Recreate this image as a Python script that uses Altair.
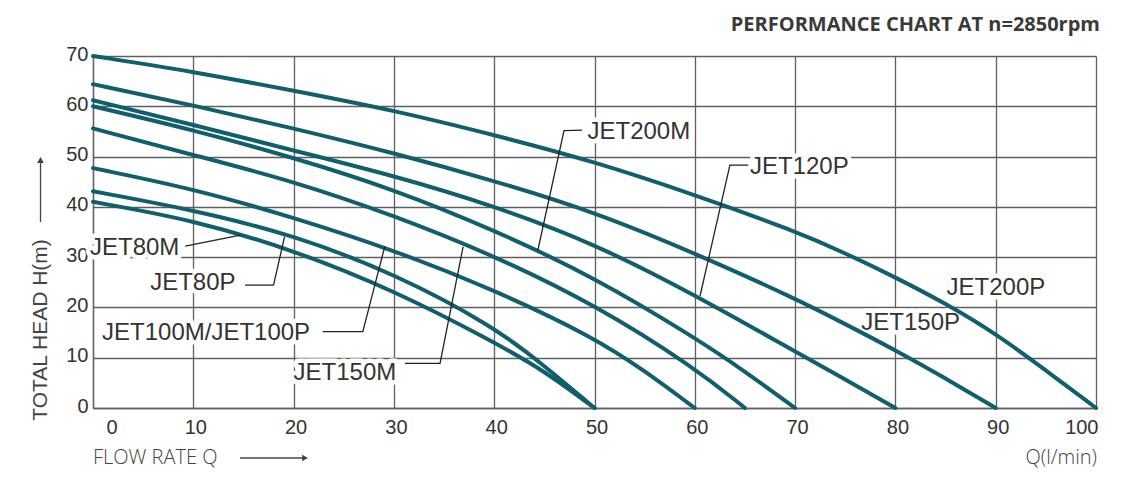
import altair as alt
import pandas as pd

# ---------------- data ----------------
MODELS = ["JET200P", "JET150P", "JET120P", "JET200M", "JET150M",
          "JET100M/JET100P", "JET80P", "JET80M"]

Q_JET200P = [0, 10, 20, 30, 40, 50, 60, 70, 75, 80, 85, 90, 95, 100]
H_JET200P = [70, 66.9, 63.1, 59.2, 54.3, 49, 42.4, 35.2, 30.8, 26, 20.8, 14.8, 7.5, 0]

Q_JET150P = [0, 10, 20, 30, 40, 50, 60, 70, 75, 80, 85, 90]
H_JET150P = [64.4, 60.2, 55.6, 50.7, 45.2, 39, 30.8, 21.8, 16.7, 11.5, 5.9, 0]

Q_JET120P = [0, 10, 20, 30, 40, 50, 60, 70, 75, 80]
H_JET120P = [61.2, 56.3, 51.2, 46.2, 40.2, 32.7, 22.5, 11.2, 5.7, 0]

Q_JET200M = [0, 10, 20, 30, 40, 50, 60, 65, 70]
H_JET200M = [60, 55.3, 49.8, 43.5, 35.4, 26, 14, 7.3, 0]

Q_JET150M = [0, 10, 20, 30, 40, 50, 60, 65]
H_JET150M = [55.6, 50.3, 45.1, 38.3, 30.3, 20.6, 8, 0]

Q_JET100 = [0, 10, 20, 30, 40, 50, 55, 60]
H_JET100 = [47.7, 43.6, 37.9, 31.4, 23.5, 14, 7.4, 0]

Q_JET80P = [0, 10, 20, 30, 40, 45, 50]
H_JET80P = [43.1, 39.4, 34.4, 26.8, 16.2, 8.4, 0]

Q_JET80M = [0, 10, 20, 30, 40, 45, 50]
H_JET80M = [41, 37.4, 31.4, 23.4, 13.1, 7.4, 0]

CURVE_Q = [Q_JET200P, Q_JET150P, Q_JET120P, Q_JET200M, Q_JET150M, Q_JET100, Q_JET80P, Q_JET80M]
CURVE_H = [H_JET200P, H_JET150P, H_JET120P, H_JET200M, H_JET150M, H_JET100, H_JET80P, H_JET80M]

# curve labels (left edge of text, vertical centre)
LABEL_TEXT = ["JET80M", "JET80P", "JET100M/JET100P", "JET150M",
              "JET200M", "JET120P", "JET200P", "JET150P"]
LABEL_Q = [-0.3, 5.7, 0.9, 20.0, 49.3, 65.5, 85.1, 76.6]
LABEL_H = [31.9, 24.8, 14.85, 6.9, 54.9, 48.0, 23.8, 17.0]

# leader lines from labels to curves
POINTER_ID = ["JET80M", "JET80P", "JET100", "JET150M", "JET200M", "JET120P"]
POINTER_Q = [[9.2, 14.7], [15.15, 18.0, 19.1], [22.9, 26.9, 29.1],
             [31.1, 34.6, 36.9], [48.75, 46.96, 44.34], [65.33, 63.5, 60.52]]
POINTER_H = [[32.2, 34.4], [24.45, 24.45, 34.06], [15.17, 15.17, 32.2],
             [8.89, 8.89, 32.07], [55.27, 55.17, 31.27], [48.31, 48.31, 22.27]]

X_TICKS = [0, 10, 20, 30, 40, 50, 60, 70, 80, 90, 100]
Y_TICKS = [0, 10, 20, 30, 40, 50, 60, 70]

TITLE = "PERFORMANCE CHART AT n=2850rpm"
X_TITLE = "FLOW RATE Q"
X_UNIT = "Q(l/min)"
Y_TITLE = "TOTAL HEAD H(m)"

# ---------------- tables ----------------
curve_rows = []
for m, qs, hs in zip(MODELS, CURVE_Q, CURVE_H):
    for q, h in zip(qs, hs):
        curve_rows.append({"model": m, "Q": q, "H": h})
curves_df = pd.DataFrame(curve_rows)

labels_df = pd.DataFrame({"label": LABEL_TEXT, "Q": LABEL_Q, "H": LABEL_H})

ptr_rows = []
for pid, qs, hs in zip(POINTER_ID, POINTER_Q, POINTER_H):
    for i, (q, h) in enumerate(zip(qs, hs)):
        ptr_rows.append({"id": pid, "seq": i, "Q": q, "H": h})
ptr_df = pd.DataFrame(ptr_rows)

GRID = "#5f5f5f"
TXT = "#333333"
CURVE = "#0f5f6d"

x_enc = alt.X("Q:Q",
              scale=alt.Scale(domain=[0, 100], nice=False, zero=True),
              axis=alt.Axis(values=X_TICKS, title=None, grid=True, ticks=False,
                            labelPadding=9, labelFontSize=20,
                            labelOffset={"condition": {"test": "datum.value == 0", "value": 13},
                                         "value": 2}))
y_enc = alt.Y("H:Q",
              scale=alt.Scale(domain=[0, 70], nice=False, zero=True),
              axis=alt.Axis(values=Y_TICKS, title=None, grid=True, ticks=False,
                            labelPadding=5, labelFontSize=20, labelOffset=-2))

one = pd.DataFrame({"k": [0]})

halo = alt.Chart(labels_df).mark_text(
    align="left", baseline="middle", font="Liberation Sans", fontSize=24,
    color="white", stroke="white", strokeWidth=9, strokeJoin="round"
).encode(x=x_enc, y=y_enc, text="label:N")

lines = alt.Chart(curves_df).mark_line(
    interpolate="basis", strokeWidth=4, color=CURVE, strokeCap="round"
).encode(x=x_enc, y=y_enc, detail="model:N")

labels = alt.Chart(labels_df).mark_text(
    align="left", baseline="middle", font="Liberation Sans", fontSize=24, color=TXT
).encode(x=x_enc, y=y_enc, text="label:N")

pointers = alt.Chart(ptr_df).mark_line(color="#222222", strokeWidth=1.3).encode(
    x=x_enc, y=y_enc, detail="id:N", order="seq:O")

title = alt.Chart(one).mark_text(
    text=TITLE, align="right", baseline="middle", font="Open Sans",
    fontWeight="bold", fontSize=20, color="#3a3a3a"
).encode(x=alt.value(1007), y=alt.value(-31))

xtitle = alt.Chart(one).mark_text(
    text=X_TITLE, align="left", baseline="middle", font="Open Sans",
    fontWeight=300, fontSize=20, color="#444444"
).encode(x=alt.value(0), y=alt.value(402))

xunit = alt.Chart(one).mark_text(
    text=X_UNIT, align="right", baseline="middle", font="Open Sans",
    fontWeight=300, fontSize=20, color="#444444"
).encode(x=alt.value(1004), y=alt.value(402))

xarrow = alt.Chart(one).mark_rule(color="#444444", strokeWidth=1.3).encode(
    x=alt.value(147), x2=alt.value(210), y=alt.value(402))
xhead = alt.Chart(one).mark_point(shape="triangle-right", filled=True, size=45,
                                  color="#444444", opacity=1).encode(
    x=alt.value(212), y=alt.value(402))

ytitle = alt.Chart(one).mark_text(
    text=Y_TITLE, align="center", baseline="middle", angle=270,
    font="Liberation Sans", fontSize=21, color="#444444"
).encode(x=alt.value(-52.5), y=alt.value(274))

yarrow = alt.Chart(one).mark_rule(color="#444444", strokeWidth=1.3).encode(
    x=alt.value(-52.5), y=alt.value(166), y2=alt.value(106))
yhead = alt.Chart(one).mark_point(shape="triangle-up", filled=True, size=45,
                                  color="#444444", opacity=1).encode(
    x=alt.value(-52.5), y=alt.value(104))

chart = alt.layer(
    halo, lines, labels, pointers, title, xtitle, xunit, xarrow, xhead,
    ytitle, yarrow, yhead
).properties(
    width=1003, height=352,
    autosize=alt.AutoSizeParams(type="none"),
    padding={"left": 85, "top": 48, "right": 40, "bottom": 61},
).configure_view(stroke=None).configure_axis(
    gridColor=GRID, gridWidth=1.3, gridOpacity=1,
    domainColor=GRID, domainWidth=1.3,
    labelFont="Liberation Sans", labelColor=TXT,
)

chart.save("out.html", embed_options={"renderer": "svg", "actions": False})
